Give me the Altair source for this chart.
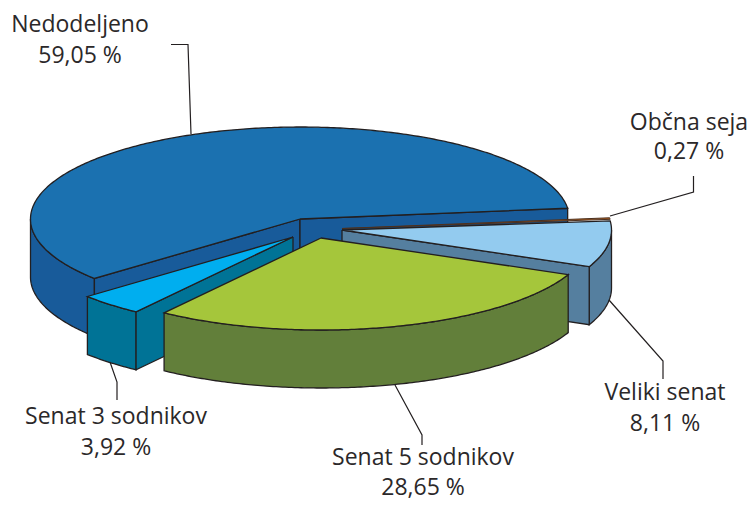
import math
import altair as alt
import pandas as pd

# values
names = ["Nedodeljeno", "Občna seja", "Veliki senat", "Senat 5 sodnikov", "Senat 3 sodnikov"]
shares = [59.05, 0.27, 8.11, 28.65, 3.92]
share_labels = ["59,05 %", "0,27 %", "8,11 %", "28,65 %", "3,92 %"]

# styles and layout
top_colors = ["#1b71b0", "#b5621f", "#93cbef", "#a5c63b", "#00aeef"]
side_colors = ["#185b9a", "#7a4a20", "#557f9f", "#627f3a", "#007396"]
offsets = [(0, 0), (42, 9.5), (42, 11), (21, 19), (-7, 18)]
label_x = [80, 689, 665, 423, 116]
label_y1 = [32, 130, 400, 465, 424]
label_y2 = [63, 159, 431, 495, 455]
leaders = [
    [(171, 44.5), (188, 44.5), (191, 134)],
    [(693.5, 176), (693.5, 192), (610, 216)],
    [(609, 300), (663, 361), (663, 379)],
    [(395, 385), (422, 435), (422, 445)],
    [(110, 362), (117, 382), (117, 400)],
]
CX, CY, RX, RY, DEPTH = 300, 219, 269.5, 92, 58
START = 6.7
LEFT_TURN = 1.0  # the drawing's perspective turns the left-hand joints by about a degree
OUT = "#231f20"

X = alt.X("x:Q", scale=alt.Scale(domain=[8, 747]), axis=None)
Y = alt.Y("y:Q", scale=alt.Scale(domain=[502, 8]), axis=None)


def rim(i, a):
    r = math.radians(a)
    return (CX + offsets[i][0] + RX * math.cos(r), CY + offsets[i][1] - RY * math.sin(r))


def apex(i):
    return (CX + offsets[i][0], CY + offsets[i][1])


def arc(i, a0, a1):
    n = max(2, int(abs(a1 - a0) * 1.5))
    return [rim(i, a0 + (a1 - a0) * k / n) for k in range(n + 1)]


def down(pts):
    return [(x, y + DEPTH) for x, y in pts]


def poly(pts, fill, width=1.3, stroke=OUT):
    p = list(pts) + [pts[0]]
    df = pd.DataFrame({"x": [q[0] for q in p], "y": [q[1] for q in p], "o": range(len(p))})
    return alt.Chart(df).mark_line(fill=fill, stroke=stroke, strokeWidth=width, strokeJoin="miter").encode(
        x=X, y=Y, order="o:Q")


def cut(i, a, color):
    r = rim(i, a)
    c = apex(i)
    return poly([c, r, (r[0], r[1] + DEPTH), (c[0], c[1] + DEPTH)], color)


# angular extents from the shares: the first slice runs counter-clockwise, the rest clockwise
ext = [(START, START + shares[0] * 3.6)]
end = START
for i in [1, 2, 3, 4]:
    ext.append((end - shares[i] * 3.6, end))
    end -= shares[i] * 3.6
ext[0] = (ext[0][0], ext[0][1] + LEFT_TURN)
ext[3] = (ext[3][0] + LEFT_TURN, ext[3][1])
ext[4] = (ext[4][0] + LEFT_TURN, ext[4][1] + LEFT_TURN)

layers = []

# Nedodeljeno
a0, a1 = ext[0]
layers.append(poly(arc(0, 180, a1) + down(arc(0, a1, 180)), side_colors[0]))
layers.append(cut(0, a1, side_colors[0]))
layers.append(cut(0, a0, side_colors[0]))
layers.append(poly([apex(0)] + arc(0, a0, a1), top_colors[0]))

# Občna seja
a0, a1 = ext[1]
layers.append(poly([apex(1)] + arc(1, a0, a1), top_colors[1], 1.0, "#4a3020"))

# Veliki senat
a0, a1 = ext[2]
layers.append(poly(arc(2, a0, 0) + down(arc(2, 0, a0)), side_colors[2]))
layers.append(cut(2, a0, side_colors[2]))
layers.append(poly([apex(2)] + arc(2, a0, a1), top_colors[2]))

# Senat 3 sodnikov
a0, a1 = ext[4]
layers.append(poly(arc(4, a0, a1) + down(arc(4, a1, a0)), side_colors[4]))
layers.append(cut(4, a1, side_colors[4]))
layers.append(poly([apex(4)] + arc(4, a0, a1), top_colors[4]))

# Senat 5 sodnikov
a0, a1 = ext[3]
layers.append(poly(arc(3, a0, a1) + down(arc(3, a1, a0)), side_colors[3]))
layers.append(poly([apex(3)] + arc(3, a0, a1), top_colors[3]))

# leader lines
for pts in leaders:
    df = pd.DataFrame({"x": [p[0] for p in pts], "y": [p[1] for p in pts], "o": range(len(pts))})
    layers.append(alt.Chart(df).mark_line(stroke=OUT, strokeWidth=1.2).encode(x=X, y=Y, order="o:Q"))

# labels
text_df = pd.DataFrame({
    "x": label_x * 2,
    "y": label_y1 + label_y2,
    "t": names + share_labels,
})
layers.append(alt.Chart(text_df).mark_text(
    font="Open Sans", fontSize=23, color="#2b2829", align="center", baseline="alphabetic"
).encode(x=X, y=Y, text="t:N"))

chart = alt.layer(*layers).properties(
    width=739, height=494, padding=0, autosize=alt.AutoSizeParams(type="none")
).configure_view(stroke=None)
chart.save("out.html", embed_options={"renderer": "svg", "actions": False})
